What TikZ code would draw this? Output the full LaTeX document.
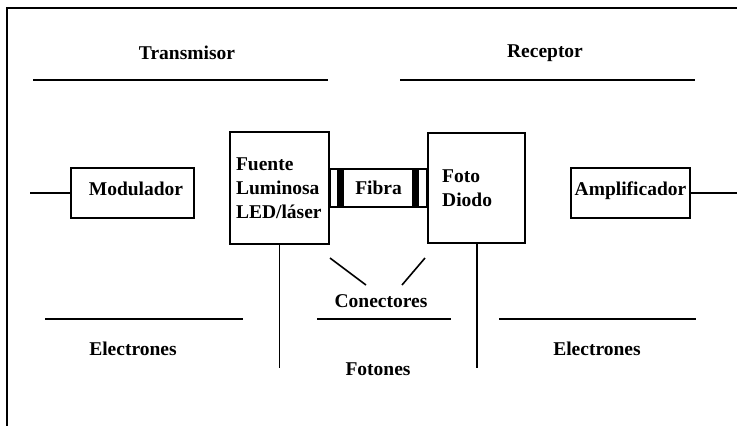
\documentclass[tikz,border=0pt]{standalone}
\usepackage{fontspec}
\setmainfont{Liberation Serif}
\usetikzlibrary{positioning, calc}

\begin{document}
\begin{tikzpicture}[x=1pt, y=-1pt,
  lbl/.style={font=\fontsize{19.5}{24}\selectfont\bfseries, inner sep=0pt},
  blk/.style={draw, line width=1.6pt, font=\fontsize{19.5}{24}\selectfont\bfseries, inner sep=2pt},
  wire/.style={line width=1.6pt}
]
\useasboundingbox (0,0) rectangle (737,426);
% marco
\draw[wire] (737,8) -- (7,8) -- (7,426);

% titulos
\node[lbl] (trans) at (187,53) {Transmisor};
\node[lbl] (recep) at (545,53) {Receptor};
\draw[wire] (33,80) -- (328,80);
\draw[wire] (400,80) -- (695,80);

% bloques
\node[blk, minimum width=123pt, minimum height=50pt, text depth=9pt] (mod) at (132.5,193) {\hspace*{7pt}Modulador};
\node[blk, minimum width=99pt, minimum height=112pt, text width=87pt, inner xsep=6pt, align=left] (fuente) at (279.5,188) {Fuente\\Luminosa\\LED/láser};
\node[blk, minimum width=96pt, minimum height=38pt, right=0pt of fuente] (fibra) {Fibra};
\node[blk, minimum width=97pt, minimum height=110pt, text width=69pt, inner xsep=14pt, align=left, right=0pt of fibra] (foto) {Foto\\Diodo};
\node[blk, minimum width=119pt, minimum height=50pt, text depth=9pt] (amp) at (630.5,193) {Amplificador};

% conectores (barras)
\fill ($(fibra.south west)+(7,0)$) rectangle ($(fibra.north west)+(14,0)$);
\fill ($(fibra.south east)+(-15,0)$) rectangle ($(fibra.north east)+(-8,0)$);

% entrada y salida
\coordinate (entrada) at (30,193);
\coordinate (salida) at (737,193);
\draw[wire] (entrada) -- (mod.west);
\draw[wire] (amp.east) -- (salida);

% separadores verticales
\coordinate (fondo) at (0,368);
\draw[wire] (fuente.south) -- (fuente.south |- fondo);
\draw[wire] (foto.south) -- (foto.south |- fondo);

% indicadores de conectores
\node[lbl] (conect) at (381,301) {Conectores};
\coordinate (c1a) at (330,258);
\coordinate (c1b) at (366,285);
\coordinate (c2a) at (425,258);
\coordinate (c2b) at (402,285);
\draw[wire] (c1a) -- (c1b);
\draw[wire] (c2a) -- (c2b);

% zonas
\draw[wire] (45,319) -- (243,319);
\draw[wire] (317,319) -- (451,319);
\draw[wire] (499,319) -- (696,319);
\node[lbl] (elec1) at (133,349) {Electrones};
\node[lbl] (foton) at (378,369) {Fotones};
\node[lbl] (elec2) at (597,349) {Electrones};
\end{tikzpicture}
\end{document}
